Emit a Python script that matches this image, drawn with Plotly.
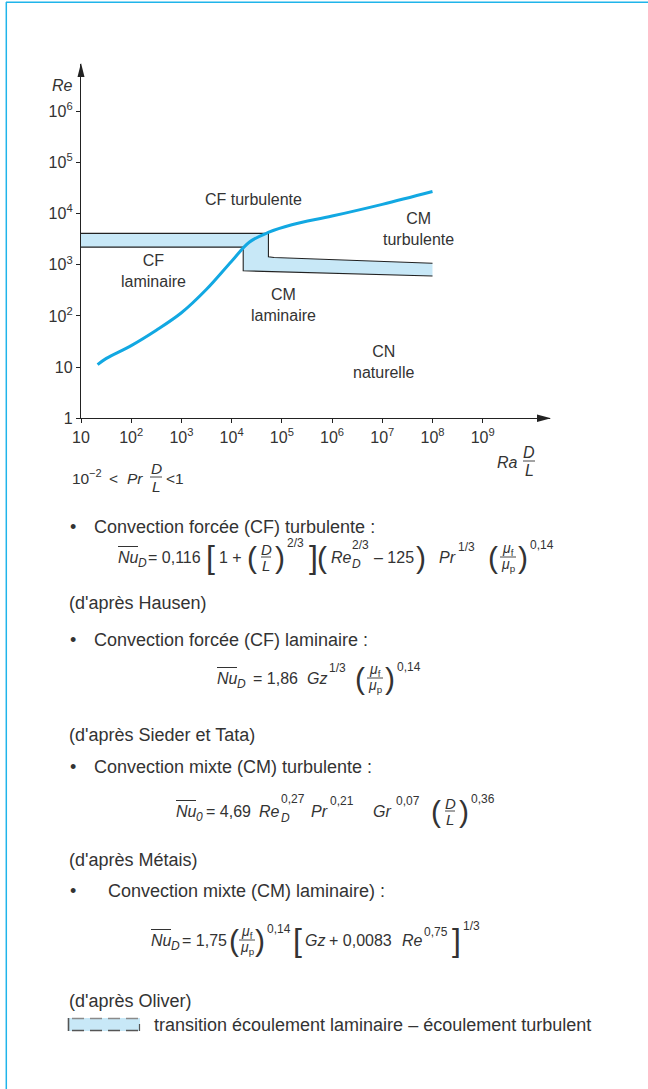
import plotly.graph_objects as go

W, H = 648, 1089
INK = "#333333"
EDGE = "#222222"
BAND = "#c8e8f7"
CURVE = "#12a8e2"
FRAME = "#1fb4ea"
FONT = "Liberation Sans"

# Transition curve between forced and mixed convection (Ra·D/L, Re)
ra_curve = [21.4, 32, 100, 316, 1000, 3160, 10000, 22400, 53700,
            158000, 1.0e6, 1.0e7, 1.0e8]
re_curve = [11.2, 14.8, 26.3, 52.5, 115, 331, 1170, 2750, 4270,
            6030, 8910, 15100, 26900]

# Laminar / turbulent transition band
band_upper_ra = [10, 54000, 54000, 70000, 1.0e8]
band_upper_re = [4100, 4100, 1430, 1380, 1070]
band_lower_ra = [10, 17000, 17000, 1.0e8]
band_lower_re = [2200, 2200, 760, 600]

x_tick_vals = [10, 1e2, 1e3, 1e4, 1e5, 1e6, 1e7, 1e8, 1e9]
x_tick_text = ["10", "10<sup>2</sup>", "10<sup>3</sup>", "10<sup>4</sup>", "10<sup>5</sup>",
               "10<sup>6</sup>", "10<sup>7</sup>", "10<sup>8</sup>", "10<sup>9</sup>"]
y_tick_vals = [1, 10, 1e2, 1e3, 1e4, 1e5, 1e6]
y_tick_text = ["1", "10", "10<sup>2</sup>", "10<sup>3</sup>", "10<sup>4</sup>",
               "10<sup>5</sup>", "10<sup>6</sup>"]

region_labels = ["CF turbulente", "CF<br>laminaire", "CM<br>laminaire",
                 "CM<br>turbulente", "CN<br>naturelle"]

fig = go.Figure()

fig.add_trace(go.Scatter(
    x=band_upper_ra + band_lower_ra[::-1],
    y=band_upper_re + band_lower_re[::-1],
    fill="toself", fillcolor=BAND, mode="lines", line=dict(width=0),
    hoverinfo="skip", showlegend=False))
for bx, by in ((band_upper_ra, band_upper_re), (band_lower_ra, band_lower_re)):
    fig.add_trace(go.Scatter(x=bx, y=by, mode="lines",
                             line=dict(color=EDGE, width=1.1),
                             hoverinfo="skip", showlegend=False, cliponaxis=False))
fig.add_trace(go.Scatter(x=ra_curve, y=re_curve, mode="lines",
                         line=dict(color=CURVE, width=3, shape="spline", smoothing=1.0),
                         hoverinfo="skip", showlegend=False))

ann = []
shapes = []


def px(x):
    return x / W


def py(y):
    return 1 - y / H


def put(x, y, text, size=15, anchor="left", italic=False):
    if italic:
        text = "<i>" + text + "</i>"
    ann.append(dict(x=px(x), y=py(y), xref="paper", yref="paper", text=text,
                    showarrow=False, xanchor=anchor, yanchor="middle",
                    font=dict(size=size, color=INK, family=FONT), borderpad=0))


def hline(x0, x1, y, width=1.0, color=INK, dash=None):
    line = dict(color=color, width=width)
    if dash:
        line["dash"] = dash
    shapes.append(dict(type="line", xref="paper", yref="paper",
                       x0=px(x0), x1=px(x1), y0=py(y), y1=py(y), line=line))


def vline(x, y0, y1, width=1.0, color=INK):
    shapes.append(dict(type="line", xref="paper", yref="paper",
                       x0=px(x), x1=px(x), y0=py(y0), y1=py(y1),
                       line=dict(color=color, width=width)))


def frac(xc, yc, num, den, size=14, half=6, gap=8):
    put(xc, yc - gap, num, size, "center")
    put(xc, yc + gap, den, size, "center")
    hline(xc - half, xc + half, yc, 0.9)


def overline_nu(x, y, sub, size=16, width=21):
    put(x, y, "Nu", size, italic=True)
    put(x + width - 1, y + 6, sub, 12, italic=True)
    hline(x + 1, x + width, y - 10.5, 1.0)


MU_F = "<i>μ</i><sub>f</sub>"
MU_P = "<i>μ</i><sub>p</sub>"

# frame
shapes.append(dict(type="line", xref="paper", yref="paper", x0=px(6), x1=1.0,
                   y0=py(2.3), y1=py(2.3), line=dict(color=FRAME, width=1.5)))
shapes.append(dict(type="line", xref="paper", yref="paper", x0=px(6.3), x1=px(6.3),
                   y0=py(2), y1=0.0, line=dict(color=FRAME, width=1.5)))

# axis arrow heads
shapes.append(dict(type="path", xref="paper", yref="paper",
                   path=f"M {px(77.5)} {py(77)} L {px(81)} {py(63)} L {px(84.5)} {py(77)} Z",
                   fillcolor=EDGE, line=dict(width=0)))
shapes.append(dict(type="path", xref="paper", yref="paper",
                   path=f"M {px(537)} {py(414.5)} L {px(551)} {py(418.3)} L {px(537)} {py(422)} Z",
                   fillcolor=EDGE, line=dict(width=0)))

LBL = 16
# chart texts
put(62, 85, "Re", LBL, "center", italic=True)
put(253, 199, region_labels[0], LBL, "center")
put(153, 271, region_labels[1], LBL, "center")
put(283, 305, region_labels[2], LBL, "center")
put(418, 229, region_labels[3], LBL, "center")
put(383, 362, region_labels[4], LBL, "center")
put(507, 462, "Ra", LBL, "center", italic=True)
frac(529, 461, "<i>D</i>", "<i>L</i>", LBL, 6, 9)

# validity range
put(71, 479, "10", 15.5)
put(88, 473, "−2", 11)
put(108, 479, "<", 15.5)
put(126, 479, "<i>Pr</i>", 15.5)
frac(156, 477, "<i>D</i>", "<i>L</i>", 15.5, 6, 9)
put(165, 479, "<1", 15.5)

BODY = 18
F = 16
S = 12
BIG = 30

# forced convection, turbulent
put(73, 527, "•", BODY, "center")
put(93, 527, "Convection forcée (CF) turbulente :", BODY)
y = 557
overline_nu(117, y, "D")
put(147, y, "= 0,116", F)
put(210, y, "[", BIG + 2, "center")
put(218, y, "1 +", F)
put(252, y, "(", BIG, "center")
frac(266, y, "<i>D</i>", "<i>L</i>", 15, 5, 8)
put(280, y, ")", BIG, "center")
put(286, y - 14, "2/3", S)
put(313, y, "]", BIG + 2, "center")
put(322, y, "(", BIG, "center")
put(330, y, "Re", F, italic=True)
put(351, y - 12, "2/3", S)
put(351, y + 7, "D", S, italic=True)
put(373, y, "– 125", F)
put(421, y, ")", BIG, "center")
put(438, y, "Pr", F, italic=True)
put(457, y - 10, "1/3", S)
put(493, y, "(", BIG, "center")
frac(508, y, MU_F, MU_P, 14, 8, 8)
put(523, y, ")", BIG, "center")
put(529, y - 12, "0,14", S)
put(68, 603, "(d'après Hausen)", BODY)

# forced convection, laminar
put(73, 640, "•", BODY, "center")
put(93, 640, "Convection forcée (CF) laminaire :", BODY)
y = 678
overline_nu(216, y, "D")
put(252, y, "= 1,86", F)
put(306, y, "Gz", F, italic=True)
put(328, y - 10, "1/3", S)
put(360, y, "(", BIG, "center")
frac(375, y, MU_F, MU_P, 14, 8, 8)
put(390, y, ")", BIG, "center")
put(396, y - 11, "0,14", S)
put(68, 735, "(d'après Sieder et Tata)", BODY)

# mixed convection, turbulent
put(73, 767, "•", BODY, "center")
put(93, 767, "Convection mixte (CM) turbulente :", BODY)
y = 811
overline_nu(175, y, "0")
put(205, y, "= 4,69", F)
put(258, y, "Re", F, italic=True)
put(280, y - 12, "0,27", S)
put(280, y + 7, "D", S, italic=True)
put(310, y, "Pr", F, italic=True)
put(329, y - 10, "0,21", S)
put(372, y, "Gr", F, italic=True)
put(395, y - 10, "0,07", S)
put(436, y, "(", BIG, "center")
frac(450, y, "<i>D</i>", "<i>L</i>", 15, 5, 8)
put(464, y, ")", BIG, "center")
put(470, y - 12, "0,36", S)
put(68, 860, "(d'après Métais)", BODY)

# mixed convection, laminar
put(73, 891, "•", BODY, "center")
put(107, 891, "Convection mixte (CM) laminaire) :", BODY)
y = 940
overline_nu(150, y, "D")
put(181, y, "= 1,75", F)
put(234, y, "(", BIG, "center")
frac(247, y, MU_F, MU_P, 14, 8, 8)
put(260, y, ")", BIG, "center")
put(266, y - 11, "0,14", S)
put(297, y, "[", BIG + 2, "center")
put(304, y, "Gz", F, italic=True)
put(328, y, "+ 0,0083", F)
put(401, y, "Re", F, italic=True)
put(423, y - 8, "0,75", S)
put(456, y, "]", BIG + 2, "center")
put(462, y - 14, "1/3", S)
put(68, 1001, "(d'après Oliver)", BODY)

# key for the transition band
shapes.append(dict(type="rect", xref="paper", yref="paper", x0=px(68), x1=px(140),
                   y0=py(1018), y1=py(1031), fillcolor=BAND, line=dict(width=0)))
hline(72, 140, 1018.5, 1.4, "#8a8a8a", "12px,6px")
hline(72, 140, 1030.5, 1.6, "#555555", "12px,6px")
vline(68.5, 1018, 1031, 1.6, "#555555")
vline(139.5, 1024, 1031, 1.2, "#555555")
put(153, 1025, "transition écoulement laminaire – écoulement turbulent", BODY)

axis_common = dict(type="log", showline=True, linecolor=EDGE, linewidth=1.3,
                   ticks="outside", ticklen=4, tickcolor=EDGE, tickwidth=1.2,
                   showgrid=False, zeroline=False, automargin=False,
                   tickfont=dict(size=16, color=INK, family=FONT))

fig.update_layout(
    width=W, height=H, autosize=False,
    margin=dict(l=0, r=0, t=0, b=0, pad=0, autoexpand=False),
    paper_bgcolor="white", plot_bgcolor="white",
    showlegend=False,
    xaxis=dict(axis_common, range=[1, 10.34], domain=[81 / W, 550 / W],
               tickvals=x_tick_vals, ticktext=x_tick_text, anchor="y"),
    yaxis=dict(axis_common, range=[0, 6.92], domain=[1 - 418.3 / H, 1 - 64 / H],
               tickvals=y_tick_vals, ticktext=y_tick_text, anchor="x"),
    annotations=ann, shapes=shapes,
)

fig.write_html("out.html")
